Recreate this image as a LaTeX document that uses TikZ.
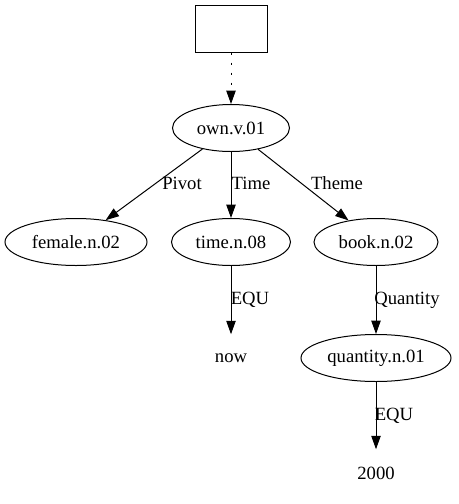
\documentclass[tikz,border=0pt]{standalone}
\usepackage{fontspec}
\setmainfont{Liberation Serif}
\usetikzlibrary{shapes.geometric,arrows.meta}
\begin{document}
\begin{tikzpicture}[x=0.75pt,y=-0.75pt,
  font=\fontsize{14pt}{16pt}\selectfont,
  every node/.style={inner sep=0pt},
  ell/.style={draw,ellipse,line width=0.75pt,minimum height=35.25pt},
  plain/.style={minimum height=35.25pt},
  lbl/.style={},
  edge/.style={line width=0.75pt,-{Triangle[length=10pt,width=7pt]}},
  dotedge/.style={edge,dash pattern=on 2pt off 5.5pt}]
\useasboundingbox (0,0) rectangle (458,504);
\node[draw,line width=0.75pt,minimum width=54pt,minimum height=35.25pt] (top) at (231,28.5) {};
\node[ell,minimum width=87.75pt] (own) at (231,128) {own.v.01};
\node[ell,minimum width=106.5pt] (female) at (76,242) {female.n.02};
\node[ell,minimum width=89.25pt] (time) at (231,242) {time.n.08};
\node[ell,minimum width=93pt] (book) at (376,242) {book.n.02};
\node[plain] (now) at (231,358) {now};
\node[ell,minimum width=112.5pt] (quantity) at (376,358) {quantity.n.01};
\node[plain] (y2000) at (376,473) {2000};
\draw[dotedge] (top) -- (own);
\draw[edge] (own) -- (female);
\draw[edge] (own) -- (time);
\draw[edge] (own) -- (book);
\draw[edge] (time) -- (now);
\draw[edge] (book) -- (quantity);
\draw[edge] (quantity) -- (y2000);
\node[lbl] (lpivot) at (182,183) {Pivot};
\node[lbl] (ltime) at (251,183) {Time};
\node[lbl] (ltheme) at (337,183) {Theme};
\node[lbl] (lequ1) at (250,300) {EQU};
\node[lbl] (lquant) at (407,300) {Quantity};
\node[lbl] (lequ2) at (394,416) {EQU};
\end{tikzpicture}
\end{document}
